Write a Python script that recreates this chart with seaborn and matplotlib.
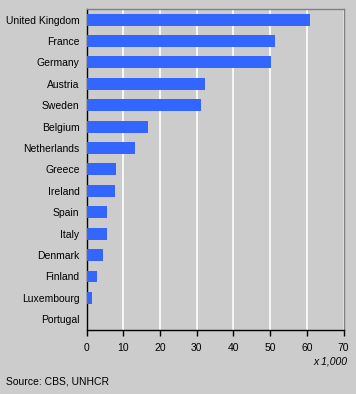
import matplotlib
matplotlib.use('Agg')
import matplotlib.pyplot as plt
import seaborn as sns
import pandas as pd

countries = ['United Kingdom', 'France', 'Germany', 'Austria', 'Sweden', 'Belgium',
             'Netherlands', 'Greece', 'Ireland', 'Spain', 'Italy', 'Denmark',
             'Finland', 'Luxembourg', 'Portugal']
values = [60.9, 51.3, 50.3, 32.3, 31.2, 16.7, 13.2, 8.0, 7.8, 5.6, 5.6, 4.5, 2.9, 1.5, 0.1]
xticks = [0, 10, 20, 30, 40, 50, 60, 70]

df = pd.DataFrame({'land': countries, 'aantal': values})

sns.set_style('white')
plt.rcParams['font.family'] = ['Liberation Sans', 'DejaVu Sans']
plt.rcParams['font.size'] = 7.5
plt.rcParams['text.color'] = 'black'
plt.rcParams['xtick.color'] = 'black'
plt.rcParams['ytick.color'] = 'black'

bg = '#cccccc'
fig = plt.figure(figsize=(3.56, 3.94), dpi=100, facecolor=bg)
ax = fig.add_axes([0.243, 0.1624, 0.722, 0.815])
ax.set_facecolor(bg)

sns.barplot(data=df, x='aantal', y='land', color='#3366ff', saturation=1,
            width=0.56, linewidth=0, edgecolor='none', ax=ax, zorder=3)

ax.set_xlim(0, 70)
ax.set_xticks(xticks)
ax.set_xticklabels([str(t) for t in xticks])
ax.set_ylim(14.5, -0.5)
ax.xaxis.grid(True, color='white', linewidth=1.2, zorder=0)
ax.set_axisbelow(True)
ax.set_xlabel('')
ax.set_ylabel('')

for s in ['top', 'right']:
    ax.spines[s].set_color('#808080')
    ax.spines[s].set_linewidth(1)
for s in ['left', 'bottom']:
    ax.spines[s].set_color('black')
    ax.spines[s].set_linewidth(1)

ax.tick_params(axis='x', bottom=True, length=4, width=1, color='black', pad=5,
               labelsize=7.5, labelcolor='black')
ax.tick_params(axis='y', left=False, length=0, pad=5, labelsize=7.5, labelcolor='black')

fig.text(347 / 356, 1 - 362 / 394, 'x 1,000', ha='right', va='center',
         fontsize=7.5, style='italic')
fig.text(6 / 356, 1 - 381 / 394, 'Source: CBS, UNHCR', ha='left', va='center', fontsize=7.5)

fig.savefig('out.png', dpi=100, facecolor=bg)
